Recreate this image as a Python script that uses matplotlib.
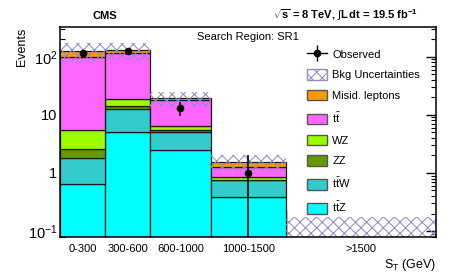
import numpy as np
import matplotlib
matplotlib.use("Agg")
import matplotlib.pyplot as plt
from matplotlib.lines import Line2D
from matplotlib.patches import Patch
from matplotlib.legend_handler import HandlerTuple

plt.rcParams["font.family"] = ["Liberation Sans", "DejaVu Sans"]
plt.rcParams["mathtext.fontset"] = "custom"
plt.rcParams["mathtext.rm"] = "Liberation Sans"
plt.rcParams["mathtext.it"] = "Liberation Sans:italic"
plt.rcParams["mathtext.bf"] = "Liberation Sans:bold"
plt.rcParams["hatch.linewidth"] = 0.75

# S_T bins (GeV)
bin_edges = [0, 300, 600, 1000, 1500, 2500]
bin_labels = ["0-300", "300-600", "600-1000", "1000-1500", ">1500"]

# stacked backgrounds, bottom to top
ttz = [0.65, 5.05, 2.44, 0.38, 0.0]
ttw = [1.16, 7.75, 2.72, 0.366, 0.0]
zz = [0.77, 1.1, 0.25, 0.02, 0.0]
wz = [2.95, 4.7, 0.9, 0.07, 0.0]
ttbar = [94.5, 98.4, 11.4, 0.43, 0.0]
misid = [24.0, 13.0, 1.6, 0.27, 0.0]

# background uncertainty band
unc_lo = [85.0, 88.0, 13.8, 1.1, 0.01]
unc_hi = [172.0, 174.0, 25.0, 2.0, 0.174]

observed = [116, 127, 13, 1, np.nan]

components = [
    ("t$\\bar{\\rm t}$Z", ttz, "#00FFFF"),
    ("t$\\bar{\\rm t}$W", ttw, "#33CCCC"),
    ("ZZ", zz, "#669900"),
    ("WZ", wz, "#99FF00"),
    ("t$\\bar{\\rm t}$", ttbar, "#FF66FF"),
    ("Misid. leptons", misid, "#FF9900"),
]
hatch_col = "#8E8EC8"

edges = np.array(bin_edges, dtype=float)
widths = np.diff(edges)
centers = edges[:-1] + widths / 2

fig = plt.figure(figsize=(4.64, 2.73), dpi=100)
ax = fig.add_axes([0.1293, 0.1308, 0.8114, 0.769])

bottom = np.full(len(widths), 1e-3)
for name, vals, col in components:
    vals = np.array(vals)
    ax.bar(edges[:-1], vals, width=widths, bottom=bottom, align="edge",
           color=col, edgecolor="#1a1a1a", linewidth=0.9, zorder=2)
    bottom = bottom + vals

lo = np.array(unc_lo)
hi = np.array(unc_hi)
ax.bar(edges[:-1], hi - lo, width=widths, bottom=lo, align="edge",
       facecolor="none", edgecolor=hatch_col, linewidth=0, hatch="xxx", zorder=3)

obs = np.array(observed, dtype=float)
ax.errorbar(centers, obs, yerr=np.sqrt(obs), fmt="o", color="black", ms=4.5,
            elinewidth=1.2, capsize=0, zorder=5)

ax.set_yscale("log")
ax.set_xlim(edges[0], edges[-1])
ax.set_ylim(0.078, 320)

ax.set_yticks([0.1, 1, 10, 100])
ax.set_yticklabels(["$10^{-1}$", "1", "10", "$10^{2}$"], fontsize=10.5)
ax.tick_params(axis="y", which="major", direction="in", length=7, width=1.0,
               left=True, right=True, pad=2)
ax.tick_params(axis="y", which="minor", direction="in", length=3.6, width=0.8,
               left=True, right=True)

ax.set_xticks(edges[1:-1])
ax.set_xticklabels([])
ax.tick_params(axis="x", which="major", direction="in", length=19.5, width=1.0,
               bottom=True, top=False)
ax.set_xticks(centers, minor=True)
ax.set_xticklabels(bin_labels, minor=True, fontsize=8)
ax.tick_params(axis="x", which="minor", length=0, pad=5)

for s in ax.spines.values():
    s.set_linewidth(1.1)
    s.set_zorder(6)

ax.set_ylabel("Events", fontsize=9, loc="top", labelpad=0)
ax.set_xlabel("S$_{\\rm T}$ (GeV)", fontsize=9, loc="right", labelpad=2)

ax.text(0.5, 0.955, "Search Region: SR1", transform=ax.transAxes,
        ha="center", va="center", fontsize=8)
fig.text(105 / 464, 1 - 16 / 273, "CMS", ha="center", va="center",
         fontsize=8, fontweight="bold")
fig.text(418 / 464, 1 - 15 / 273,
         "$\\mathbf{\\sqrt{s}}$ = 8 TeV, $\\int\\mathbf{L\\,dt}$ = 19.5 fb$^{\\mathbf{-1}}$",
         ha="right", va="center", fontsize=8, fontweight="bold")

obs_handle = (Line2D([], [], color="black", lw=1.0, marker="o", ms=4.5),
              Line2D([], [], color="black", lw=0, marker="|", ms=11, mew=1.0))
handles = [obs_handle,
           Patch(facecolor="white", edgecolor=hatch_col, hatch="xxx", lw=1.0)]
labels = ["Observed", "Bkg Uncertainties"]
for name, vals, col in reversed(components):
    handles.append(Patch(facecolor=col, edgecolor="#555555", lw=1.0))
    labels.append(name)

ax.legend(handles, labels, loc="upper left", bbox_to_anchor=(0.645, 0.92),
          frameon=False, fontsize=8, handlelength=1.8, handleheight=1.05,
          labelspacing=0.88, handletextpad=0.45, borderaxespad=0,
          handler_map={tuple: HandlerTuple(ndivide=1, pad=0)})

fig.savefig("out.png", dpi=100)
